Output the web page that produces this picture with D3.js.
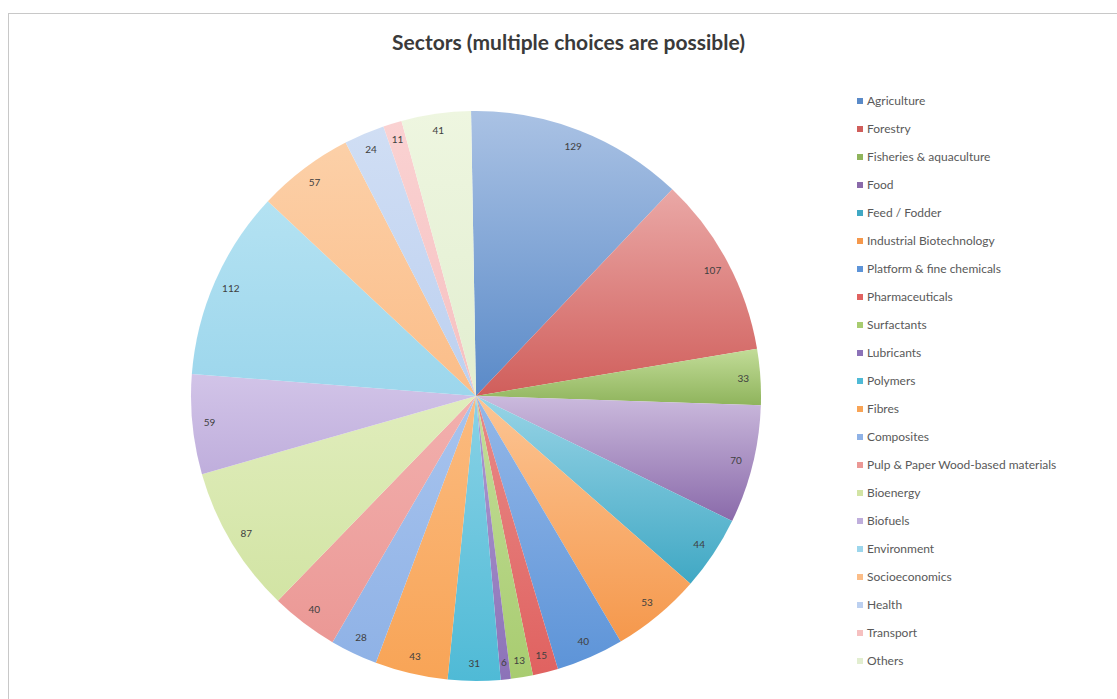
<!DOCTYPE html>
<html><head><meta charset="utf-8">
<script src="https://cdn.jsdelivr.net/npm/d3@7"></script>
<style>body{margin:0;background:#fff;}svg{display:block;}</style>
</head><body>
<script>
const categories = ["Agriculture","Forestry","Fisheries & aquaculture","Food","Feed / Fodder","Industrial Biotechnology","Platform & fine chemicals","Pharmaceuticals","Surfactants","Lubricants","Polymers","Fibres","Composites","Pulp & Paper Wood-based materials","Bioenergy","Biofuels","Environment","Socioeconomics","Health","Transport","Others"];
const values = [129,107,33,70,44,53,40,15,13,6,31,43,28,40,87,59,112,57,24,11,41];
const colorsTop = ["#aac2e4","#eaa8a6","#c2dc98","#cbbadd","#98d4e6","#fcc594","#95b8e8","#e88a88","#c4de9a","#ae9ad0","#8ad2e6","#fbbb80","#a8c4ee","#f2b0ae","#e0edbc","#d2c4e8","#b4e2f2","#fcd0a8","#d0def4","#fad2d2","#eef6e0"];
const colorsBottom = ["#5a8ac8","#d05e5b","#8fb45c","#8a6aaa","#40a8c4","#f5984c","#5d94d8","#e06260","#a8cc70","#8c72b8","#4fbad6","#f8a456","#8fb2e6","#eb9895","#d2e4a4","#bfaedc","#9cd6ec","#fbbd88","#bcd0f0","#f6c0c0","#e2eed0"];

const W = 1117, H = 699;
const cx = 476, cy = 396, R = 285;
const svg = d3.select("body").append("svg").attr("width", W).attr("height", H);

// frame
svg.append("rect").attr("x", 8.5).attr("y", 13.5).attr("width", W).attr("height", H)
  .attr("fill", "#fff").attr("stroke", "#c8c8c8").attr("stroke-width", 1);

// title
const title = svg.append("text").attr("y", 50).attr("text-anchor", "middle")
  .attr("font-family", "Lato, 'Open Sans', sans-serif").attr("font-weight", "bold")
  .attr("font-size", 18).attr("fill", "#3a3a3a")
  .text("Sectors (multiple choices are possible)");
{
  const w = title.node().getComputedTextLength();
  title.attr("font-size", 18 * 353 / w).attr("x", 392 + 353 / 2);
}

const defs = svg.append("defs");
categories.forEach((c, i) => {
  const g = defs.append("linearGradient").attr("id", "g" + i)
    .attr("x1", 0).attr("y1", 0).attr("x2", 0).attr("y2", 1);
  g.append("stop").attr("offset", "0%").attr("stop-color", colorsTop[i]);
  g.append("stop").attr("offset", "100%").attr("stop-color", colorsBottom[i]);
});

const data = categories.map((c, i) => ({cat: c, value: values[i], i}));
const rot = -1 * Math.PI / 180;
const pie = d3.pie().value(d => d.value).sort(null).startAngle(rot).endAngle(2 * Math.PI + rot);
const arcs = pie(data);
const arc = d3.arc().innerRadius(0).outerRadius(R);
const labelArc = d3.arc().innerRadius(R * 0.94).outerRadius(R * 0.94);

const gp = svg.append("g").attr("transform", `translate(${cx},${cy})`);
gp.selectAll("path").data(arcs).join("path")
  .attr("d", arc)
  .attr("fill", d => `url(#g${d.data.i})`);

gp.selectAll("text").data(arcs).join("text")
  .attr("transform", d => `translate(${labelArc.centroid(d)})`)
  .attr("text-anchor", "middle").attr("dy", "0.35em")
  .attr("font-family", "Lato, 'Open Sans', sans-serif").attr("font-size", 10)
  .attr("fill", "#404040")
  .text(d => d.data.value);

// legend
const lg = svg.append("g");
const ly = d3.scalePoint().domain(categories).range([101, 661]);
const items = lg.selectAll("g").data(categories).join("g")
  .attr("transform", d => `translate(857,${ly(d)})`);
items.append("rect").attr("x", 0).attr("y", -3).attr("width", 6).attr("height", 6)
  .attr("fill", (d, i) => colorsBottom[i]);
items.append("text").attr("x", 10).attr("dy", "0.35em")
  .attr("font-family", "Lato, 'Open Sans', sans-serif").attr("font-size", 12)
  .attr("fill", "#595959").text(d => d);
</script>
</body></html>
